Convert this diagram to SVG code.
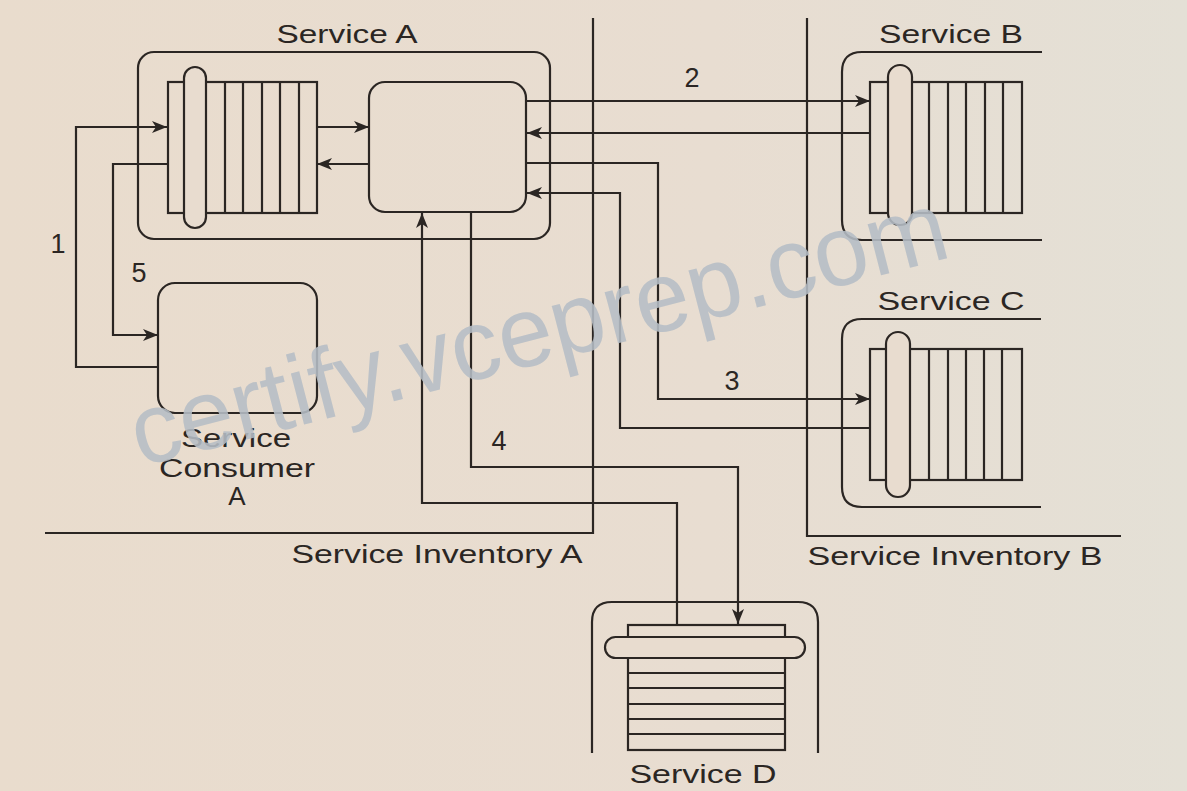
<svg xmlns="http://www.w3.org/2000/svg" width="1187" height="791" viewBox="0 0 1187 791">
<defs>
<linearGradient id="bg" x1="0" y1="0" x2="1" y2="0">
<stop offset="0" stop-color="#e9dccd"/>
<stop offset="0.6" stop-color="#e8ddd1"/>
<stop offset="1" stop-color="#e4e0d6"/>
</linearGradient>
<marker id="ah" markerUnits="userSpaceOnUse" markerWidth="16" markerHeight="14" refX="15" refY="7" orient="auto">
<path d="M0,1 L15,7 L0,13 L4,7 Z" fill="#2b2623"/>
</marker>
<style>
.ln{fill:none;stroke:#2b2623;stroke-width:2.2}
.bx{fill:none;stroke:#2b2623;stroke-width:2.2}
.pill{fill:#e8dccf;stroke:#2b2623;stroke-width:2.2}
.t{font-family:"Liberation Sans",Arial,sans-serif;font-size:26px;fill:#2b2623}
.n{font-family:"Liberation Sans",Arial,sans-serif;font-size:27px;fill:#2b2623}
.wm{font-family:"Liberation Sans",Arial,sans-serif;font-size:100px;fill:#b6bec6;opacity:0.88}
</style>
</defs>
<rect x="0" y="0" width="1187" height="791" fill="url(#bg)"/>

<g id="inventory-a">
<path class="ln" d="M593,18 V533 H45"/>
<text class="t" x="437" y="563" text-anchor="middle" textLength="291" lengthAdjust="spacingAndGlyphs">Service Inventory A</text>
</g>
<g id="inventory-b">
<path class="ln" d="M807,18 V536 H1121"/>
<text class="t" x="955" y="565" text-anchor="middle" textLength="295" lengthAdjust="spacingAndGlyphs">Service Inventory B</text>
</g>

<g id="service-a">
<text class="t" x="347" y="43" text-anchor="middle" textLength="141" lengthAdjust="spacingAndGlyphs">Service A</text>
<rect class="bx" x="138" y="52" width="412" height="187" rx="16"/>
<g id="service-a-queue">
<rect class="bx" x="168" y="82" width="149" height="131"/>
<path class="ln" d="M225,82V213M243,82V213M262,82V213M280,82V213M299,82V213"/>
<rect class="pill" x="184" y="67" width="22" height="161" rx="11"/>
</g>
<rect id="service-a-logic" class="bx" x="369" y="82" width="157" height="130" rx="16"/>
</g>

<g id="service-consumer-a">
<rect class="bx" x="158" y="283" width="159" height="130" rx="17"/>
<text class="t" x="236" y="447" text-anchor="middle" textLength="110" lengthAdjust="spacingAndGlyphs">Service</text>
<text class="t" x="237" y="477" text-anchor="middle" textLength="156" lengthAdjust="spacingAndGlyphs">Consumer</text>
<text class="t" x="237" y="505" text-anchor="middle">A</text>
</g>

<g id="service-b">
<text class="t" x="951" y="43" text-anchor="middle" textLength="144" lengthAdjust="spacingAndGlyphs">Service B</text>
<path class="ln" d="M1042,52 H862 Q842,52 842,72 V220 Q842,240 862,240 H1042"/>
<rect class="bx" x="870" y="82" width="152" height="131"/>
<path class="ln" d="M929,82V213M948,82V213M966,82V213M985,82V213M1003,82V213"/>
<rect class="pill" x="888" y="65" width="24" height="160" rx="12"/>
</g>

<g id="service-c">
<text class="t" x="951" y="310" text-anchor="middle" textLength="147" lengthAdjust="spacingAndGlyphs">Service C</text>
<path class="ln" d="M1041,319 H862 Q842,319 842,339 V487 Q842,507 862,507 H1041"/>
<rect class="bx" x="870" y="349" width="152" height="131"/>
<path class="ln" d="M929,349V480M948,349V480M966,349V480M984,349V480M1002,349V480"/>
<rect class="pill" x="886" y="332" width="24" height="165" rx="12"/>
</g>

<g id="service-d">
<path class="ln" d="M592,753 V622 Q592,602 612,602 H798 Q818,602 818,622 V753"/>
<rect class="bx" x="628" y="625" width="157" height="125"/>
<path class="ln" d="M628,673H785M628,688H785M628,704H785M628,719H785M628,734H785"/>
<rect class="pill" x="605" y="637" width="200" height="21" rx="10.5"/>
<text class="t" x="703" y="783" text-anchor="middle" textLength="147" lengthAdjust="spacingAndGlyphs">Service D</text>
</g>

<g id="connectors">
<path class="ln" marker-end="url(#ah)" d="M158,367 H76 V127 H167"/>
<path class="ln" marker-end="url(#ah)" d="M168,164 H113 V335 H158"/>
<path class="ln" marker-end="url(#ah)" d="M317,127 H369"/>
<path class="ln" marker-end="url(#ah)" d="M369,164 H317"/>
<path class="ln" marker-end="url(#ah)" d="M526,101 H870"/>
<path class="ln" marker-end="url(#ah)" d="M870,133 H527"/>
<path class="ln" marker-end="url(#ah)" d="M526,163 H658 V399 H870"/>
<path class="ln" marker-end="url(#ah)" d="M870,428 H620 V193 H527"/>
<path class="ln" marker-end="url(#ah)" d="M471,212 V467 H738 V624"/>
<path class="ln" marker-end="url(#ah)" d="M677,625 V503 H422 V213"/>
<text class="n" x="58" y="253" text-anchor="middle">1</text>
<text class="n" x="692" y="87" text-anchor="middle">2</text>
<text class="n" x="732" y="390" text-anchor="middle">3</text>
<text class="n" x="499" y="450" text-anchor="middle">4</text>
<text class="n" x="139" y="282" text-anchor="middle">5</text>
</g>

<text class="wm" x="140" y="467" transform="rotate(-14.5 140 467)" textLength="840" lengthAdjust="spacingAndGlyphs">certify.vceprep.com</text>
</svg>
